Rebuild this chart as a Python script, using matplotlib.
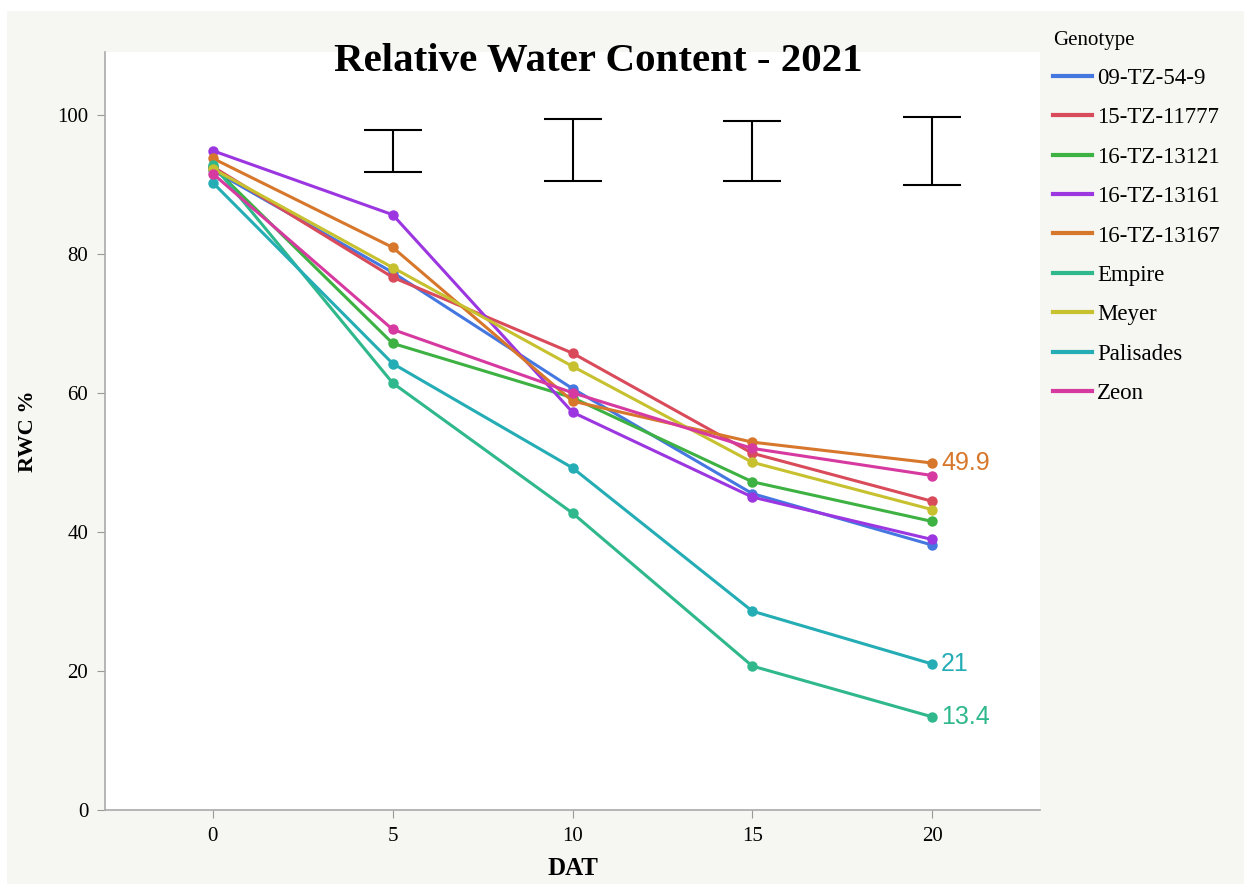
#!/usr/bin/env python3

import matplotlib
matplotlib.use("Agg")
import matplotlib.pyplot as plt
from matplotlib.patches import Rectangle


dat = [0, 5, 10, 15, 20]
genotypes = ["09-TZ-54-9", "15-TZ-11777", "16-TZ-13121", "16-TZ-13161",
             "16-TZ-13167", "Empire", "Meyer", "Palisades", "Zeon"]
rwc = {
    "09-TZ-54-9": [92.0, 77.3, 60.6, 45.5, 38.1],
    "15-TZ-11777": [92.5, 76.6, 65.7, 51.3, 44.4],
    "16-TZ-13121": [92.5, 67.1, 59.3, 47.2, 41.5],
    "16-TZ-13161": [94.8, 85.6, 57.2, 45.0, 38.9],
    "16-TZ-13167": [93.7, 80.9, 58.8, 52.9, 49.9],
    "Empire": [92.8, 61.4, 42.7, 20.7, 13.4],
    "Meyer": [92.2, 78.0, 63.8, 50.0, 43.2],
    "Palisades": [90.2, 64.2, 49.2, 28.6, 21.0],
    "Zeon": [91.5, 69.1, 60.0, 52.0, 48.1],
}
colors = ["#4577e0", "#d94a5a", "#3db142", "#9b36e0", "#d7772b",
          "#2fb88c", "#c7c12f", "#24adb5", "#d63aa0"]
labelled = ["16-TZ-13167", "Palisades", "Empire"]

# error bars (LSD-style) drawn at the top
err_x = [5, 10, 15, 20]
err_mid = [94.8, 94.9, 94.8, 94.8]
err_half = [3.0, 4.45, 4.3, 4.9]

serif = "Liberation Serif"

fig = plt.figure(figsize=(12.44, 8.84), dpi=100, facecolor="white")
fig.patches.append(Rectangle((7 / 1244, 0), 1, 1 - 11 / 884,
                             transform=fig.transFigure,
                             facecolor="#f6f6f2", edgecolor="none",
                             zorder=-10))
ax = fig.add_axes([105 / 1244, 1 - 810 / 884, 935 / 1244, 758 / 884])
ax.set_facecolor("white")

for g, c in zip(genotypes, colors):
    ax.plot(dat, rwc[g], color=c, lw=2.2, marker="o", ms=6.5, label=g)
    if g in labelled:
        ax.text(dat[-1] + 0.25, rwc[g][-1], f"{rwc[g][-1]:g}", color=c,
                fontsize=18, family="Liberation Sans", va="center",
                ha="left")

ax.errorbar(err_x, err_mid, yerr=err_half, fmt="none", ecolor="black",
            elinewidth=1.5, capsize=21, capthick=1.5)

ax.set_xlim(-3, 23)
ax.set_ylim(0, 109)
ax.set_xticks(dat)
ax.set_yticks([0, 20, 40, 60, 80, 100])
for s in ["top", "right"]:
    ax.spines[s].set_visible(False)
for s in ["left", "bottom"]:
    ax.spines[s].set_color("#aaaaaa")
    ax.spines[s].set_linewidth(1.2)
ax.tick_params(colors="#999999", length=6, labelcolor="black",
               labelsize=15, pad=6)
for lbl in ax.get_xticklabels() + ax.get_yticklabels():
    lbl.set_family(serif)

ax.set_xlabel("DAT", family=serif, fontsize=18, weight="bold", labelpad=8)
ax.set_ylabel("RWC %", family=serif, fontsize=16, weight="bold",
              labelpad=14)

fig.text(598 / 1244, 1 - 62 / 884, "Relative Water Content - 2021",
         family=serif, fontsize=29.5, weight="bold", ha="center",
         va="center")

leg = fig.legend(loc="upper left", bbox_to_anchor=(1032 / 1244, 1 - 10 / 884),
                 frameon=False, title="Genotype", alignment="left",
                 prop={"family": serif, "size": 16.5},
                 title_fontproperties={"family": serif, "size": 15},
                 handlelength=1.7, handletextpad=0.25, labelspacing=0.8)
for h in leg.legend_handles:
    h.set_marker("")
    h.set_linewidth(3)

fig.savefig("out.png", dpi=100, facecolor=fig.get_facecolor())
